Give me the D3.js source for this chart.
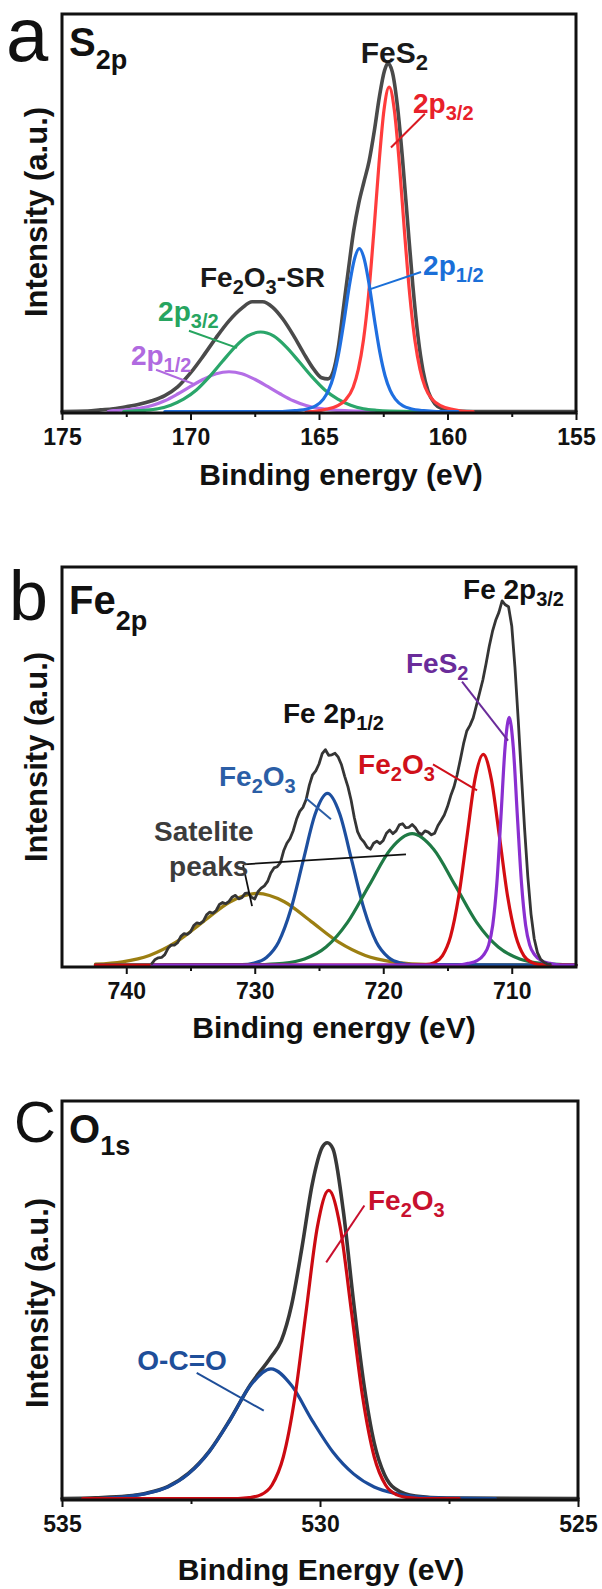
<!DOCTYPE html>
<html>
<head>
<meta charset="utf-8">
<script src="https://cdn.jsdelivr.net/npm/d3@7"></script>
<style>
  html, body { margin: 0; padding: 0; background: #fff; }
  svg { display: block; }
</style>
</head>
<body>
<svg id="chart" width="602" height="1589"></svg>
<script>
// ---------- (a) S 2p ----------
const s2pTicks = [175, 170, 165, 160, 155];
const s2pMinorTicks = [172.5, 167.5, 162.5, 157.5];
// [binding energy (eV), normalised intensity]
const s2pEnvelope = [[175,0],[174,0.001],[173.5,0.004],[173,0.007],[172.5,0.012],[172,0.018],[171.5,0.027],[171,0.040],[170.5,0.062],[170,0.097],[169.5,0.140],[169,0.186],[168.5,0.228],[168,0.260],[167.6,0.276],[167.2,0.276],[166.8,0.262],[166.4,0.232],[166,0.192],[165.6,0.147],[165.2,0.106],[164.9,0.085],[164.65,0.082],[164.45,0.100],[164.25,0.160],[164.05,0.260],[163.85,0.360],[163.65,0.455],[163.45,0.525],[163.25,0.578],[163.05,0.630],[162.85,0.705],[162.65,0.792],[162.45,0.858],[162.32,0.876],[162.15,0.855],[161.95,0.770],[161.75,0.635],[161.55,0.475],[161.35,0.318],[161.15,0.190],[160.95,0.102],[160.75,0.050],[160.5,0.020],[160.2,0.007],[159.8,0.002],[159,0],[155,0]];
const s2pFeS2_3_2 = [[165.5,0],[165.27,0],[164.77,0.005],[164.27,0.015],[163.97,0.029],[163.67,0.061],[163.47,0.106],[163.27,0.180],[163.07,0.294],[162.87,0.449],[162.67,0.620],[162.47,0.759],[162.27,0.816],[162.07,0.759],[161.87,0.620],[161.67,0.449],[161.47,0.294],[161.27,0.180],[161.07,0.106],[160.87,0.061],[160.57,0.029],[160.27,0.015],[159.77,0.005],[159.27,0],[159,0]];
const s2pFeS2_1_2 = [[171,0],[166.43,0],[165.93,0.002],[165.43,0.007],[165.13,0.014],[164.83,0.031],[164.63,0.053],[164.43,0.090],[164.23,0.148],[164.03,0.226],[163.83,0.312],[163.63,0.381],[163.43,0.410],[163.23,0.381],[163.03,0.312],[162.83,0.226],[162.63,0.148],[162.43,0.090],[162.23,0.053],[162.03,0.031],[161.73,0.014],[161.43,0.007],[160.93,0.002],[160.43,0],[159.6,0]];
const s2pSR_3_2 = [[172.6,0],[172.27,0.001],[171.77,0.003],[171.27,0.007],[170.77,0.016],[170.27,0.031],[169.77,0.054],[169.27,0.087],[168.77,0.125],[168.27,0.162],[167.77,0.190],[167.27,0.200],[166.77,0.190],[166.27,0.162],[165.77,0.125],[165.27,0.087],[164.77,0.054],[164.27,0.031],[163.77,0.016],[163.27,0.007],[162.77,0.003],[162.27,0.001],[161.27,0],[160.5,0]];
const s2pSR_1_2 = [[173.2,0],[173,0.002],[172.5,0.004],[172,0.008],[171.5,0.015],[171,0.027],[170.5,0.044],[170,0.063],[169.5,0.081],[169,0.095],[168.5,0.100],[168,0.095],[167.5,0.081],[167,0.063],[166.5,0.044],[166,0.027],[165.5,0.015],[165,0.008],[164.5,0.004],[164,0.002],[163.5,0.001],[162.5,0],[161,0]];

// ---------- (b) Fe 2p ----------
const fe2pTicks = [740, 730, 720, 710];
const fe2pMinorTicks = [735, 725, 715];
const fe2pMeasured = [[738.0,0.004],[737.75,0.014],[737.5,0.018],[737.25,0.019],[737.0,0.026],[736.75,0.042],[736.5,0.050],[736.25,0.050],[736.0,0.056],[735.75,0.072],[735.5,0.079],[735.25,0.077],[735.0,0.083],[734.75,0.099],[734.5,0.106],[734.25,0.104],[734.0,0.110],[733.75,0.126],[733.5,0.133],[733.25,0.130],[733.0,0.137],[732.75,0.152],[732.5,0.157],[732.25,0.154],[732.0,0.160],[731.75,0.171],[731.5,0.175],[731.25,0.166],[731.0,0.169],[730.75,0.180],[730.5,0.181],[730.25,0.170],[730.0,0.166],[729.75,0.184],[729.5,0.193],[729.25,0.199],[729.0,0.210],[728.75,0.231],[728.5,0.244],[728.25,0.247],[728.0,0.257],[727.75,0.287],[727.5,0.306],[727.25,0.318],[727.0,0.338],[726.75,0.366],[726.5,0.386],[726.25,0.396],[726.0,0.416],[725.75,0.452],[725.5,0.478],[725.25,0.488],[725.0,0.505],[724.75,0.531],[724.5,0.541],[724.25,0.527],[724.0,0.528],[723.75,0.532],[723.5,0.522],[723.25,0.503],[723.0,0.474],[722.75,0.448],[722.5,0.414],[722.25,0.370],[722.0,0.335],[721.75,0.318],[721.5,0.309],[721.25,0.296],[721.0,0.291],[720.75,0.306],[720.5,0.311],[720.25,0.305],[720.0,0.313],[719.75,0.331],[719.5,0.339],[719.25,0.330],[719.0,0.337],[718.75,0.352],[718.5,0.355],[718.25,0.345],[718.0,0.346],[717.75,0.353],[717.5,0.345],[717.25,0.332],[717.0,0.328],[716.75,0.337],[716.5,0.334],[716.25,0.327],[716.0,0.331],[715.75,0.350],[715.5,0.363],[715.25,0.377],[715.0,0.398],[714.75,0.425],[714.5,0.447],[714.25,0.478],[714.0,0.516],[713.75,0.556],[713.5,0.588],[713.25,0.602],[713.0,0.621],[712.75,0.652],[712.5,0.684],[712.25,0.716],[712.0,0.757],[711.75,0.801],[711.5,0.838],[711.25,0.866],[711.0,0.886],[710.75,0.915],[710.5,0.905],[710.25,0.900],[710.0,0.852],[709.75,0.748],[709.5,0.618],[709.25,0.478],[709.0,0.342],[708.75,0.222],[708.5,0.128],[708.25,0.066],[708.0,0.031],[707.75,0.014],[707.5,0.007],[707.25,0.003],[707.0,0.002]];
const fe2pSatellite = [[742.4,0.002],[740.3,0.008],[738.2,0.024],[736.1,0.058],[734.0,0.109],[731.9,0.159],[729.8,0.180],[727.7,0.159],[725.6,0.109],[723.5,0.058],[721.4,0.024],[719.3,0.008],[717.2,0.002],[715.1,0.0004],[705,0]];
const fe2pFe2O3_1_2 = [[742.4,0],[731.0,0.001],[730.04,0.005],[729.09,0.019],[728.14,0.058],[727.19,0.140],[726.24,0.261],[725.29,0.380],[724.34,0.431],[723.39,0.380],[722.44,0.261],[721.49,0.140],[720.54,0.058],[719.59,0.019],[718.64,0.005],[717.69,0.001],[705,0]];
const fe2pSatellite2 = [[742.4,0],[731.2,0],[729.48,0.001],[727.80,0.004],[726.13,0.015],[724.45,0.045],[722.78,0.107],[721.10,0.200],[719.43,0.291],[717.75,0.330],[716.08,0.291],[714.40,0.200],[712.73,0.107],[711.05,0.045],[709.38,0.015],[707.70,0.004],[706.03,0.001],[705,0]];
const fe2pFe2O3_3_2 = [[742.4,0],[718,0],[716.67,0.001],[716.03,0.006],[715.40,0.023],[714.76,0.072],[714.13,0.172],[713.49,0.321],[712.86,0.467],[712.22,0.529],[711.59,0.467],[710.95,0.321],[710.32,0.172],[709.68,0.072],[709.05,0.023],[708.41,0.006],[707.78,0.001],[705,0]];
const fe2pFeS2 = [[738,0],[714.2,0],[713.4,0.004],[712.7,0.011],[712.2,0.025],[711.8,0.050],[711.48,0.100],[711.16,0.205],[710.84,0.373],[710.52,0.547],[710.2,0.622],[709.88,0.547],[709.56,0.373],[709.24,0.205],[708.92,0.100],[708.6,0.050],[708.2,0.025],[707.7,0.011],[707.0,0.004],[706.2,0],[705,0]];

// ---------- (c) O 1s ----------
const o1sTicks = [535, 530, 525];
const o1sMinorTicks = [532.5, 527.5];
const o1sEnvelope = [[535,0],[534.35,0.002],[533.75,0.006],[533.35,0.014],[532.95,0.030],[532.55,0.063],[532.15,0.118],[531.75,0.197],[531.35,0.286],[530.95,0.356],[530.75,0.397],[530.55,0.487],[530.35,0.631],[530.15,0.791],[529.95,0.885],[529.86,0.895],[529.75,0.880],[529.55,0.725],[529.35,0.495],[529.15,0.288],[528.95,0.140],[528.75,0.060],[528.55,0.025],[528.15,0.006],[527.55,0.001],[525,0]];
const o1sFe2O3 = [[534.6,0],[531.59,0],[531.37,0.002],[531.15,0.009],[530.93,0.034],[530.71,0.105],[530.49,0.252],[530.27,0.470],[530.05,0.684],[529.83,0.775],[529.61,0.684],[529.39,0.470],[529.17,0.252],[528.95,0.105],[528.73,0.034],[528.51,0.009],[528.29,0.002],[528.07,0],[527.3,0]];
const o1sOCO = [[534.3,0],[533.75,0.005],[533.35,0.013],[532.95,0.029],[532.55,0.062],[532.15,0.117],[531.75,0.196],[531.35,0.284],[530.95,0.326],[530.55,0.284],[530.15,0.196],[529.75,0.117],[529.35,0.062],[528.95,0.029],[528.55,0.013],[528.15,0.005],[527.55,0.001],[526.6,0]];

// ---------- drawing ----------
const FONT = '"Liberation Sans", Arial, Helvetica, sans-serif';
const FRAME_L = 62;
const svg = d3.select("#chart").attr("font-family", FONT);

function richText(parent, px, py, parts, o) {
  const t = parent.append("text")
    .attr("x", px).attr("y", py)
    .attr("fill", o.color)
    .attr("font-weight", o.weight || "bold")
    .attr("font-size", o.size);
  let low = false;
  parts.forEach(([str, sub]) => {
    const ts = t.append("tspan").text(str);
    if (sub) {
      ts.attr("font-size", o.subSize);
      if (!low) { ts.attr("dy", o.drop); low = true; }
    } else if (low) {
      ts.attr("dy", -o.drop); low = false;
    }
  });
  return t;
}

function drawPanel(p) {
  const x = d3.scaleLinear().domain(p.domain).range([FRAME_L, p.right]);
  const y = d3.scaleLinear().domain([0, 1]).range([p.base, p.top]);
  const g = svg.append("g");

  // spectra
  p.series.forEach(s => {
    const line = d3.line()
      .x(d => x(d[0])).y(d => y(d[1]))
      .curve(s.noisy ? d3.curveLinear : d3.curveMonotoneX);
    g.append("path")
      .attr("d", line(s.data))
      .attr("fill", "none")
      .attr("stroke", s.color)
      .attr("stroke-width", s.width)
      .attr("stroke-linejoin", "round")
      .attr("stroke-linecap", "round");
  });

  // leader lines
  p.leaders.forEach(l => {
    g.append("line")
      .attr("x1", x(l.pts[0][0])).attr("y1", y(l.pts[0][1]))
      .attr("x2", x(l.pts[1][0])).attr("y2", y(l.pts[1][1]))
      .attr("stroke", l.color).attr("stroke-width", l.width || 2);
  });

  // peak labels
  p.labels.forEach(lb => {
    const sz = lb.size || 28;
    richText(g, x(lb.at[0]), y(lb.at[1]), lb.parts,
      { color: lb.color, size: sz, subSize: Math.round(sz * 0.72), drop: 7 });
  });

  // bottom axis: major + minor ticks
  const axG = g.append("g").attr("transform", `translate(0,${p.bottom})`)
    .call(d3.axisBottom(x).tickValues(p.ticks).tickFormat(d3.format("d"))
      .tickSize(7).tickPadding(9));
  axG.select(".domain").remove();
  axG.selectAll(".tick line").attr("stroke", "#111").attr("stroke-width", 2);
  axG.selectAll(".tick text")
    .attr("fill", "#111").attr("font-size", 23)
    .attr("font-weight", "bold").attr("font-family", FONT);

  const minG = g.append("g").attr("transform", `translate(0,${p.bottom})`)
    .call(d3.axisBottom(x).tickValues(p.minor).tickFormat("").tickSize(4));
  minG.select(".domain").remove();
  minG.selectAll(".tick line").attr("stroke", "#111").attr("stroke-width", 2);

  // frame
  g.append("rect")
    .attr("x", FRAME_L).attr("y", p.top)
    .attr("width", p.right - FRAME_L).attr("height", p.bottom - p.top)
    .attr("fill", "none").attr("stroke", "#111").attr("stroke-width", 3);

  // panel letter
  g.append("text").attr("x", p.letterX).attr("y", p.letterY)
    .attr("font-size", p.letterSize).attr("fill", "#111").text(p.letter);

  // element / core level
  richText(g, FRAME_L + 7, p.titleY, p.title,
    { color: "#111", size: 40, subSize: 27, drop: p.titleDrop });

  // axis titles
  g.append("text").attr("x", p.xTitleX).attr("y", p.xTitleY)
    .attr("text-anchor", "middle").attr("font-size", 30)
    .attr("font-weight", "bold").attr("fill", "#111").text(p.xTitle);
  g.append("text")
    .attr("transform", `translate(${p.yTitleX},${p.yTitleY}) rotate(-90)`)
    .attr("text-anchor", "middle").attr("font-size", 31)
    .attr("font-weight", "bold").attr("fill", "#111").text("Intensity (a.u.)");
}

const fe2o3 = [["Fe"], ["2", 1], ["O"], ["3", 1]];

drawPanel({
  domain: [175, 155], ticks: s2pTicks, minor: s2pMinorTicks,
  top: 14, bottom: 413, base: 411.5, right: 576,
  letter: "a", letterX: 6, letterY: 61, letterSize: 76,
  title: [["S"], ["2p", 1]], titleY: 56, titleDrop: 13,
  xTitle: "Binding energy (eV)", xTitleX: 341, xTitleY: 485,
  yTitleX: 47, yTitleY: 212,
  series: [
    { data: s2pEnvelope, color: "#4a4a4a", width: 3.6 },
    { data: s2pSR_1_2, color: "#b46ee6", width: 3.2 },
    { data: s2pSR_3_2, color: "#2aa66a", width: 3.2 },
    { data: s2pFeS2_3_2, color: "#ff3c3c", width: 3.2 },
    { data: s2pFeS2_1_2, color: "#1f6fe0", width: 3.2 }
  ],
  labels: [
    { parts: [["FeS"], ["2", 1]], at: [163.38, 0.877], color: "#1a1a1a", size: 30 },
    { parts: [["2p"], ["3/2", 1]], at: [161.34, 0.752], color: "#e8202a" },
    { parts: [["2p"], ["1/2", 1]], at: [160.95, 0.343], color: "#1a6fd8" },
    { parts: [["Fe"], ["2", 1], ["O"], ["3", 1], ["-SR"]], at: [169.63, 0.313], color: "#1a1a1a" },
    { parts: [["2p"], ["3/2", 1]], at: [171.26, 0.228], color: "#27a560" },
    { parts: [["2p"], ["1/2", 1]], at: [172.32, 0.118], color: "#b06ae0" }
  ],
  leaders: [
    { pts: [[162.20, 0.664], [160.88, 0.749]], color: "#d91a22" },
    { pts: [[163.09, 0.306], [161.03, 0.351]], color: "#1a6fd8" },
    { pts: [[170.06, 0.203], [168.19, 0.160]], color: "#27a560" },
    { pts: [[171.34, 0.105], [169.82, 0.068]], color: "#b06ae0" }
  ]
});

drawPanel({
  domain: [745, 705], ticks: fe2pTicks, minor: fe2pMinorTicks,
  top: 567, bottom: 967, base: 965, right: 576,
  letter: "b", letterX: 9, letterY: 620, letterSize: 70,
  title: [["Fe"], ["2p", 1]], titleY: 614, titleDrop: 16,
  xTitle: "Binding energy (eV)", xTitleX: 334, xTitleY: 1038,
  yTitleX: 47, yTitleY: 757,
  series: [
    { data: fe2pSatellite, color: "#9c7f12", width: 3.2 },
    { data: fe2pFe2O3_1_2, color: "#1d4f9f", width: 3.2 },
    { data: fe2pSatellite2, color: "#1f7a45", width: 3.2 },
    { data: fe2pFe2O3_3_2, color: "#d40d12", width: 3.2 },
    { data: fe2pFeS2, color: "#8a2fd0", width: 3.2 },
    { data: fe2pMeasured, color: "#353535", width: 2.8, noisy: true }
  ],
  labels: [
    { parts: [["Fe 2p"], ["3/2", 1]], at: [713.79, 0.92], color: "#111" },
    { parts: [["Fe 2p"], ["1/2", 1]], at: [727.8, 0.609], color: "#111" },
    { parts: [["FeS"], ["2", 1]], at: [718.23, 0.734], color: "#6a2c9a" },
    { parts: fe2o3, at: [721.96, 0.481], color: "#d0101a" },
    { parts: fe2o3, at: [732.78, 0.451], color: "#2b5ea6" },
    { parts: [["Satelite"]], at: [737.84, 0.311], color: "#3c3c3c" },
    { parts: [["peaks"]], at: [736.67, 0.223], color: "#3c3c3c" }
  ],
  leaders: [
    { pts: [[713.87, 0.712], [710.29, 0.564]], color: "#6a2c9a" },
    { pts: [[716.13, 0.504], [712.70, 0.439]], color: "#d0101a" },
    { pts: [[726.01, 0.419], [724.07, 0.366]], color: "#2b5ea6" },
    { pts: [[730.84, 0.253], [718.23, 0.278]], color: "#111", width: 1.8 },
    { pts: [[730.91, 0.251], [730.21, 0.148]], color: "#111", width: 1.8 }
  ]
});

drawPanel({
  domain: [535, 525], ticks: o1sTicks, minor: o1sMinorTicks,
  top: 1101, bottom: 1500, base: 1498.5, right: 578,
  letter: "C", letterX: 14, letterY: 1142, letterSize: 58,
  title: [["O"], ["1s", 1]], titleY: 1143, titleDrop: 12,
  xTitle: "Binding Energy (eV)", xTitleX: 321, xTitleY: 1580,
  yTitleX: 48, yTitleY: 1303,
  series: [
    { data: o1sEnvelope, color: "#383838", width: 3.6 },
    { data: o1sOCO, color: "#1b4b9a", width: 3.2 },
    { data: o1sFe2O3, color: "#cc0a12", width: 3.2 }
  ],
  labels: [
    { parts: fe2o3, at: [529.07, 0.727], color: "#c8102e" },
    { parts: [["O-C=O"]], at: [533.54, 0.323], color: "#1e4e99" }
  ],
  leaders: [
    { pts: [[529.14, 0.737], [529.88, 0.594]], color: "#c8102e" },
    { pts: [[532.39, 0.316], [531.09, 0.221]], color: "#1e4e99" }
  ]
});
</script>
</body>
</html>
